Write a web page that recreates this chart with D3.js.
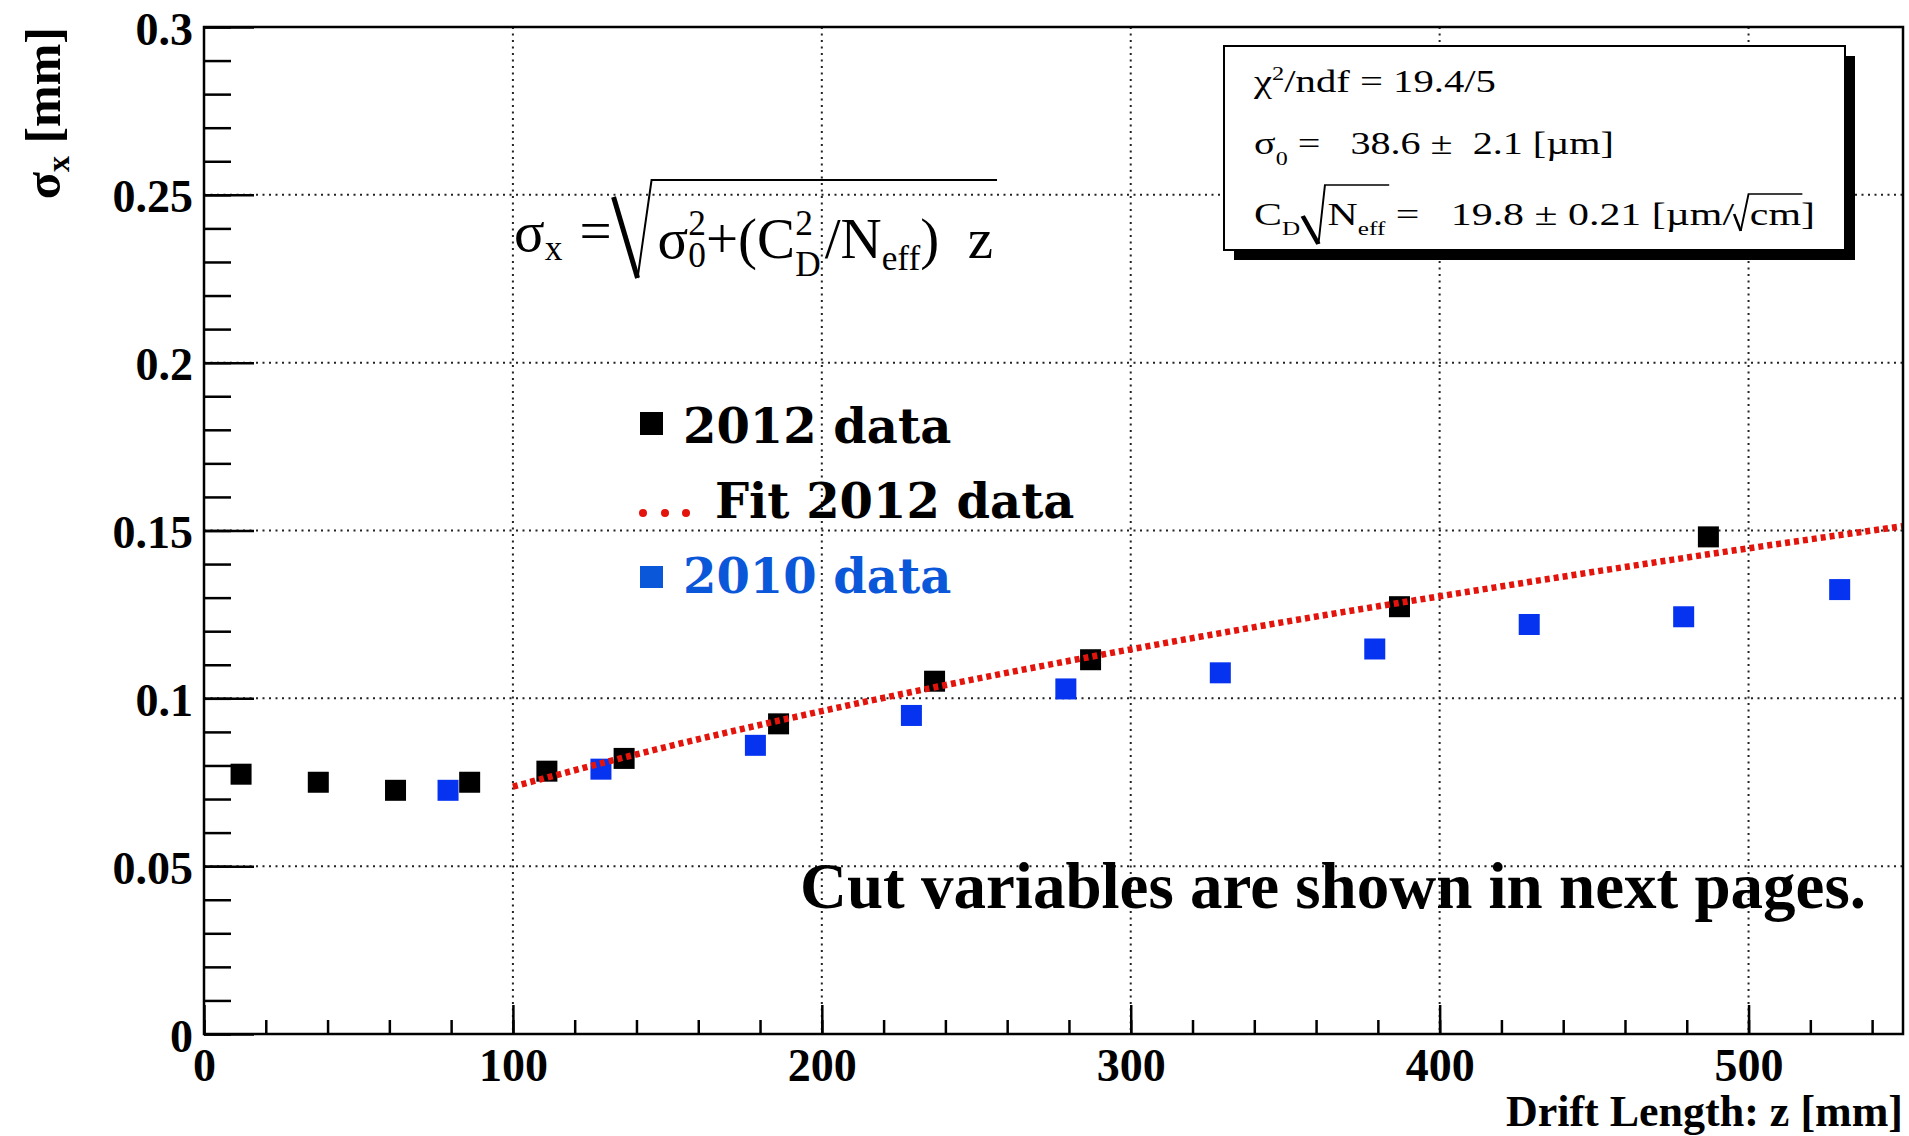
<!DOCTYPE html>
<html><head><meta charset="utf-8">
<script src="https://cdn.jsdelivr.net/npm/d3@7"></script>
<style>body{margin:0;background:#fff;} svg{display:block;} text{white-space:pre;}</style>
</head><body>
<svg id="c" width="1909" height="1136"></svg>
<script>
// ---- data ----
const x2012 = [12, 37, 62, 86, 111, 136, 186, 236.5, 287, 387, 487];
const y2012 = [0.0774, 0.0750, 0.0726, 0.0750, 0.0783, 0.0821, 0.0924, 0.1051, 0.1115, 0.1273, 0.1481];
const x2010 = [79, 128.5, 178.5, 229, 279, 329, 379, 429, 479, 529.5];
const y2010 = [0.0726, 0.0789, 0.0860, 0.0949, 0.1028, 0.1076, 0.1147, 0.1220, 0.1243, 0.1324];
const xFit = [100, 150, 200, 250, 300, 350, 400, 450, 500, 550];
const yFit = [0.0737, 0.0856, 0.0962, 0.1058, 0.1146, 0.1228, 0.1304, 0.1377, 0.1447, 0.1513];
const xTicks = [0, 100, 200, 300, 400, 500];
const xTickLabels = ["0", "100", "200", "300", "400", "500"];
const yTicks = [0, 0.05, 0.1, 0.15, 0.2, 0.25, 0.3];
const yTickLabels = ["0", "0.05", "0.1", "0.15", "0.2", "0.25", "0.3"];
const legendLabels = ["2012 data", "Fit 2012 data", "2010 data"];
const statLines = ["χ²/ndf = 19.4/5", "σ0 = 38.6 ± 2.1 [µm]", "CD/√Neff = 19.8 ± 0.21 [µm/√cm]"];

const SERIF = '"Liberation Serif","Times New Roman",serif';
const WIDE = '"DejaVu Serif",serif';
const M = {l: 204, r: 1903, t: 27, b: 1034};
const svg = d3.select('#c');
const x = d3.scaleLinear().domain([0, 550]).range([M.l, M.r]);
const y = d3.scaleLinear().domain([0, 0.3]).range([M.b, M.t]);

// ---- grid ----
const grid = svg.append('g').attr('stroke', '#222').attr('stroke-width', 2).attr('stroke-dasharray', '2,4.5');
grid.selectAll('line.gx').data(xTicks.filter(d => d > 0)).join('line').attr('class', 'gx')
  .attr('x1', d => x(d)).attr('x2', d => x(d)).attr('y1', M.t).attr('y2', M.b);
grid.selectAll('line.gy').data(yTicks.filter(d => d > 0 && d < 0.3)).join('line').attr('class', 'gy')
  .attr('y1', d => y(d)).attr('y2', d => y(d)).attr('x1', M.l).attr('x2', M.r);

// ---- data points ----
const S = 21;
svg.append('g').selectAll('rect').data(x2010.map((d, i) => [d, y2010[i]])).join('rect')
  .attr('x', d => x(d[0]) - S / 2).attr('y', d => y(d[1]) - S / 2).attr('width', S).attr('height', S)
  .attr('fill', '#0533f0');
svg.append('g').selectAll('rect').data(x2012.map((d, i) => [d, y2012[i]])).join('rect')
  .attr('x', d => x(d[0]) - S / 2).attr('y', d => y(d[1]) - S / 2).attr('width', S).attr('height', S)
  .attr('fill', '#000');

// ---- fit ----
const line = d3.line().x(d => x(d[0])).y(d => y(d[1])).curve(d3.curveMonotoneX);
svg.append('path').datum(xFit.map((d, i) => [d, yFit[i]])).attr('d', line)
  .attr('fill', 'none').attr('stroke', '#e3140c').attr('stroke-width', 6.5).attr('stroke-dasharray', '5,4');

// ---- axes ----
function styleAxis(g) {
  g.select('.domain').remove();
  g.selectAll('line').attr('stroke', '#000').attr('stroke-width', 2.5);
  g.selectAll('text').attr('font-family', SERIF).attr('font-weight', 'bold').attr('font-size', 46).attr('fill', '#000');
}
svg.append('g').attr('transform', `translate(0,${M.b})`)
  .call(d3.axisBottom(x).tickValues(d3.range(0, 551, 20)).tickSize(-14).tickFormat('')).call(styleAxis);
svg.append('g').attr('transform', `translate(0,${M.b})`)
  .call(d3.axisBottom(x).tickValues(xTicks).tickSize(-29).tickPadding(14).tickFormat((d, i) => xTickLabels[i])).call(styleAxis);
svg.append('g').attr('transform', `translate(${M.l},0)`)
  .call(d3.axisLeft(y).tickValues(d3.range(0, 31).map(i => i / 100)).tickSize(-27).tickFormat('')).call(styleAxis);
const ya = svg.append('g').attr('transform', `translate(${M.l},0)`)
  .call(d3.axisLeft(y).tickValues(yTicks).tickSize(-50).tickPadding(11).tickFormat((d, i) => yTickLabels[i])).call(styleAxis);
ya.selectAll('text').attr('dy', '0.37em');

svg.append('rect').attr('x', M.l).attr('y', M.t).attr('width', M.r - M.l).attr('height', M.b - M.t)
  .attr('fill', 'none').attr('stroke', '#000').attr('stroke-width', 2.5);

// ---- axis titles ----
svg.append('text').attr('x', M.r).attr('y', 1126).attr('text-anchor', 'end')
  .attr('font-family', SERIF).attr('font-weight', 'bold').attr('font-size', 44).text('Drift Length: z [mm]');
const yt = svg.append('text').attr('transform', 'translate(60,27) rotate(-90)').attr('text-anchor', 'end')
  .attr('font-family', SERIF).attr('font-weight', 'bold').attr('font-size', 50);
yt.append('tspan').text('σ');
yt.append('tspan').attr('font-size', 32).attr('dy', 9).text('x');
yt.append('tspan').attr('dy', -9).text(' [mm]');

// ---- rich text helper ----
function rich(g, x0, y0, segs, base) {
  let cx = x0;
  for (const s of segs) {
    if (s.gap) { cx += s.gap; continue; }
    if (s.stack) {
      const fs = base * s.stack.k;
      const a = g.append('text').attr('x', cx).attr('y', y0 + s.stack.supDy).attr('font-size', fs).text(s.stack.sup);
      const b = g.append('text').attr('x', cx).attr('y', y0 + s.stack.subDy).attr('font-size', fs).text(s.stack.sub);
      cx += Math.max(a.node().getComputedTextLength(), b.node().getComputedTextLength());
      continue;
    }
    if (s.rad) {
      const r = s.rad;
      const xA = cx + (r.pad || 0), yA = y0 + r.start;
      const xB = xA + r.w1, yB = y0 + r.bottom;
      const xC = xB + r.w2, yC = y0 + r.top;
      const end = rich(g, xC + (r.inner || 2), y0, r.segs, base);
      g.append('path').attr('d', `M${xA},${yA}L${xB},${yB}`).attr('stroke', '#000').attr('stroke-width', r.thick);
      g.append('path').attr('d', `M${xB},${yB}L${xC},${yC}L${end + (r.tail || 2)},${yC}`)
        .attr('fill', 'none').attr('stroke', '#000').attr('stroke-width', r.thin);
      cx = end + (r.after || 0);
      continue;
    }
    const fs = base * (s.k || 1);
    const t = g.append('text').attr('x', cx).attr('y', y0 + (s.dy || 0)).attr('font-size', fs).text(s.t);
    cx += t.node().getComputedTextLength();
  }
  return cx;
}

// ---- formula ----
const fg = svg.append('g').attr('font-family', SERIF).attr('fill', '#000');
rich(fg, 514, 258, [
  {t: 'σ', dy: -7}, {t: 'x', k: 0.62, dy: 2}, {gap: 17}, {t: '=', dy: -8},
  {rad: {pad: 2, start: -61, bottom: 20, top: -78, w1: 24, w2: 14, thick: 5, thin: 2, inner: 6, tail: 4, segs: [
    {t: 'σ'}, {stack: {k: 0.62, sup: '2', sub: '0', supDy: -23, subDy: 9}}, {t: '+('}, {t: 'C'},
    {stack: {k: 0.62, sup: '2', sub: 'D', supDy: -23, subDy: 18}}, {gap: 4}, {t: '/N'}, {t: 'eff', k: 0.62, dy: 12}, {t: ')  z'}
  ]}}
], 57);

// ---- stats box ----
const bx = 1224, by = 46, bw = 621, bh = 204;
svg.append('rect').attr('x', bx + 10).attr('y', by + 10).attr('width', bw).attr('height', bh).attr('fill', '#000');
svg.append('rect').attr('x', bx).attr('y', by).attr('width', bw).attr('height', bh)
  .attr('fill', '#fff').attr('stroke', '#000').attr('stroke-width', 2);
const statDefs = [
  {base: 92, right: 1496, segs: [{t: 'χ'}, {t: '2', k: 0.6, dy: -12}, {t: '/ndf = 19.4/5'}]},
  {base: 154, right: 1614, segs: [{t: 'σ'}, {t: '0', k: 0.6, dy: 11}, {t: ' =   38.6 ±  2.1 [µm]'}]},
  {base: 225, right: 1815, segs: [{t: 'C'}, {t: 'D', k: 0.6, dy: 10},
    {rad: {pad: 2, start: -9, bottom: 19, top: -40, w1: 12, w2: 5, thick: 3.5, thin: 1.5, inner: 2, tail: 3,
      segs: [{t: 'N'}, {t: 'eff', k: 0.6, dy: 10}]}},
    {t: ' =   19.8 ± 0.21 [µm/'},
    {rad: {pad: 0, start: -11, bottom: 6, top: -31, w1: 5, w2: 6, thick: 2, thin: 1.5, inner: 1, tail: 1, segs: [{t: 'cm'}]}},
    {t: ']'}]}
];
statDefs.forEach((d, i) => {
  const g = svg.append('g').attr('font-family', SERIF).attr('fill', '#000').attr('data-label', statLines[i]);
  const end = rich(g, 0, 0, d.segs, 32);
  const sx = (d.right - 1254) / end;
  g.attr('transform', `translate(1254,${d.base}) scale(${sx},1)`);
});

// ---- legend ----
const lg = svg.append('g').attr('font-family', WIDE).attr('font-weight', 'bold').attr('font-size', 48);
lg.append('rect').attr('x', 640).attr('y', 412).attr('width', 23).attr('height', 23).attr('fill', '#000');
lg.append('text').attr('x', 683).attr('y', 443).attr('fill', '#000').text(legendLabels[0]);
lg.selectAll('circle').data([643, 665, 686]).join('circle').attr('cx', d => d).attr('cy', 513).attr('r', 4).attr('fill', '#e3140c');
lg.append('text').attr('x', 715).attr('y', 518).attr('fill', '#000').text(legendLabels[1]);
lg.append('rect').attr('x', 640).attr('y', 566).attr('width', 23).attr('height', 22).attr('fill', '#0b57d9');
lg.append('text').attr('x', 683).attr('y', 593).attr('fill', '#0b57d9').text(legendLabels[2]);

// ---- note ----
svg.append('text').attr('x', 800).attr('y', 908).attr('font-family', SERIF).attr('font-weight', 'bold')
  .attr('font-size', 65).attr('fill', '#000').text('Cut variables are shown in next pages.');
</script>
</body></html>
